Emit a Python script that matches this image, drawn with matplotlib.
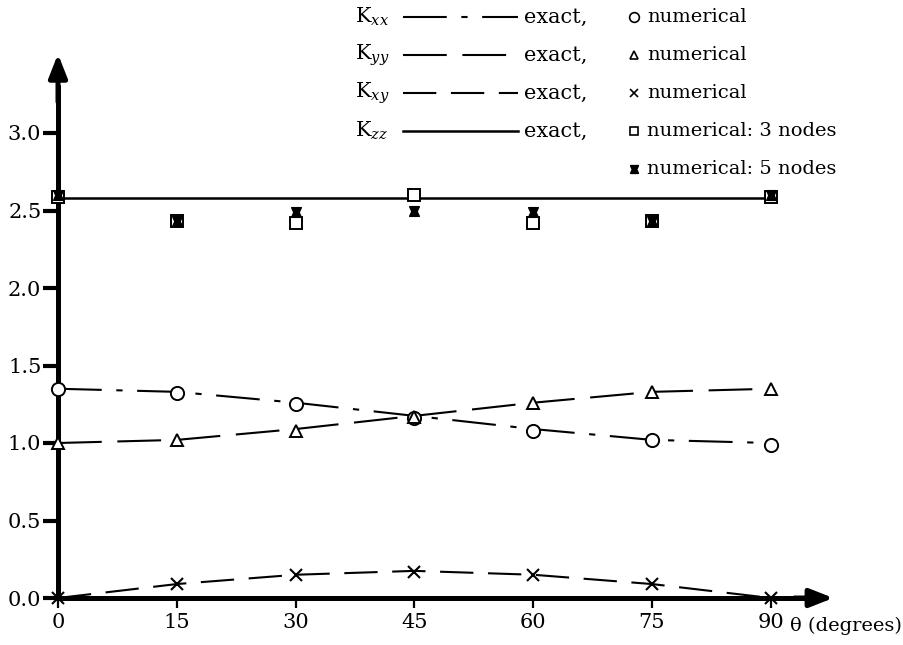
import matplotlib
matplotlib.use("Agg")
import matplotlib.pyplot as plt
from matplotlib.path import Path
from matplotlib.lines import Line2D

plt.rcParams['font.family'] = ['DejaVu Serif']
plt.rcParams['mathtext.fontset'] = 'dejavuserif'

# data
theta = [0, 15, 30, 45, 60, 75, 90]
kxx_exact = [1.35, 1.33, 1.26, 1.175, 1.09, 1.02, 1.0]
kyy_exact = [1.0, 1.02, 1.09, 1.175, 1.26, 1.33, 1.35]
kxy_exact = [0.0, 0.09, 0.15, 0.175, 0.15, 0.09, 0.0]
kzz_exact = [2.58, 2.58, 2.58, 2.58, 2.58, 2.58, 2.58]
kxx_num = [1.35, 1.32, 1.25, 1.16, 1.08, 1.02, 0.99]
kyy_num = [1.0, 1.02, 1.08, 1.17, 1.26, 1.33, 1.35]
kxy_num = [0.0, 0.09, 0.15, 0.17, 0.15, 0.09, 0.0]
kzz_3nodes = [2.59, 2.43, 2.42, 2.60, 2.42, 2.43, 2.59]
kzz_5nodes = [2.6, 2.43, 2.49, 2.50, 2.49, 2.43, 2.6]
yticks = [0.0, 0.5, 1.0, 1.5, 2.0, 2.5, 3.0]

# hourglass-like marker for the 5 node results
hourglass = Path([(-1, 1), (1, 1), (0.55, 0), (1, -1), (-1, -1), (-0.55, 0), (-1, 1)],
                 [Path.MOVETO] + [Path.LINETO] * 5 + [Path.CLOSEPOLY])

fig = plt.figure(figsize=(9.04, 6.45), dpi=100)
ax = fig.add_axes([0, 0, 1, 1])
ax.set_xlim(-58 / 7.92, (904 - 58) / 7.92)
ax.set_ylim(-47 / 155.0, 598 / 155.0)

style_xx = dict(color='k', lw=1.5, dashes=(21, 7, 3, 7))
style_yy = dict(color='k', lw=1.5, dashes=(21, 7.5))
style_xy = dict(color='k', lw=1.5, dashes=(16, 7))
style_zz = dict(color='k', lw=1.8)

ax.plot(theta, kxx_exact, **style_xx)
ax.plot(theta, kyy_exact, **style_yy)
ax.plot(theta, kxy_exact, **style_xy)
ax.plot(theta, kzz_exact, **style_zz)

mk = dict(linestyle='none', color='k', mfc='white', mew=1.4, clip_on=False, zorder=5)
ax.plot(theta, kxx_num, marker='o', ms=9.5, **mk)
ax.plot(theta, kyy_num, marker='^', ms=8, **mk)
ax.plot(theta, kxy_num, marker='x', ms=8, **{**mk, 'mew': 1.5})
ax.plot(theta, kzz_3nodes, marker='s', ms=8, **mk)
ax.plot(theta, kzz_5nodes, marker=hourglass, ms=7, linestyle='none', color='k',
        mfc='k', mew=1.0, clip_on=False, zorder=6)

# axes as thick arrows
for s in ['top', 'right']:
    ax.spines[s].set_visible(False)
ax.spines['left'].set_position(('data', 0))
ax.spines['bottom'].set_position(('data', 0))
ax.spines['left'].set_bounds(0, 3.3)
ax.spines['bottom'].set_bounds(0, 94)
ax.spines['left'].set_linewidth(3.6)
ax.spines['bottom'].set_linewidth(3.6)
ax.annotate('', xy=(0, 3.51), xytext=(0, 3.2), annotation_clip=False,
            arrowprops=dict(arrowstyle='-|>,head_length=1.4,head_width=0.55',
                            lw=3.6, color='k', shrinkA=0, shrinkB=0))
ax.annotate('', xy=(97.9, 0), xytext=(93, 0), annotation_clip=False,
            arrowprops=dict(arrowstyle='-|>,head_length=1.4,head_width=0.55',
                            lw=3.6, color='k', shrinkA=0, shrinkB=0))

ax.set_yticks(yticks)
ax.set_yticklabels(['%.1f' % v for v in yticks])
ax.set_xticks(theta)
ax.set_xticklabels([str(t) for t in theta])
ax.tick_params(axis='y', direction='out', length=11, width=3, pad=1, labelsize=15)
ax.tick_params(axis='x', direction='out', length=7, width=1.6, pad=4, labelsize=15)
ax.text(92.4, -0.178, 'θ (degrees)', fontsize=14, ha='left', va='center')

# legend drawn by hand, two columns
rows = [17, 55, 93, 131, 169]
labels = [r'K$_{xx}$', r'K$_{yy}$', r'K$_{xy}$', r'K$_{zz}$']
styles = [style_xx, style_yy, style_xy, style_zz]
for py, lab, st in zip(rows, labels, styles):
    fy = 1 - py / 645.0
    fig.text(355 / 904, fy, lab, fontsize=15, ha='left', va='center')
    fig.add_artist(Line2D([403 / 904, 518 / 904], [fy, fy], transform=fig.transFigure, **st))
    fig.text(524 / 904, fy, 'exact,', fontsize=15, ha='left', va='center')

num_labels = ['numerical', 'numerical', 'numerical', 'numerical: 3 nodes', 'numerical: 5 nodes']
num_marks = [('o', 7, 'white'), ('^', 6, 'white'), ('x', 6, 'white'), ('s', 6, 'white'),
             (hourglass, 5.5, 'k')]
for py, lab, (m, ms, fc) in zip(rows, num_labels, num_marks):
    fy = 1 - py / 645.0
    fig.add_artist(Line2D([634 / 904], [fy], transform=fig.transFigure, marker=m, ms=ms,
                          color='k', mfc=fc, mew=1.2, linestyle='none'))
    fig.text(647 / 904, fy, lab, fontsize=14, ha='left', va='center')

fig.savefig('out.png', dpi=100)
